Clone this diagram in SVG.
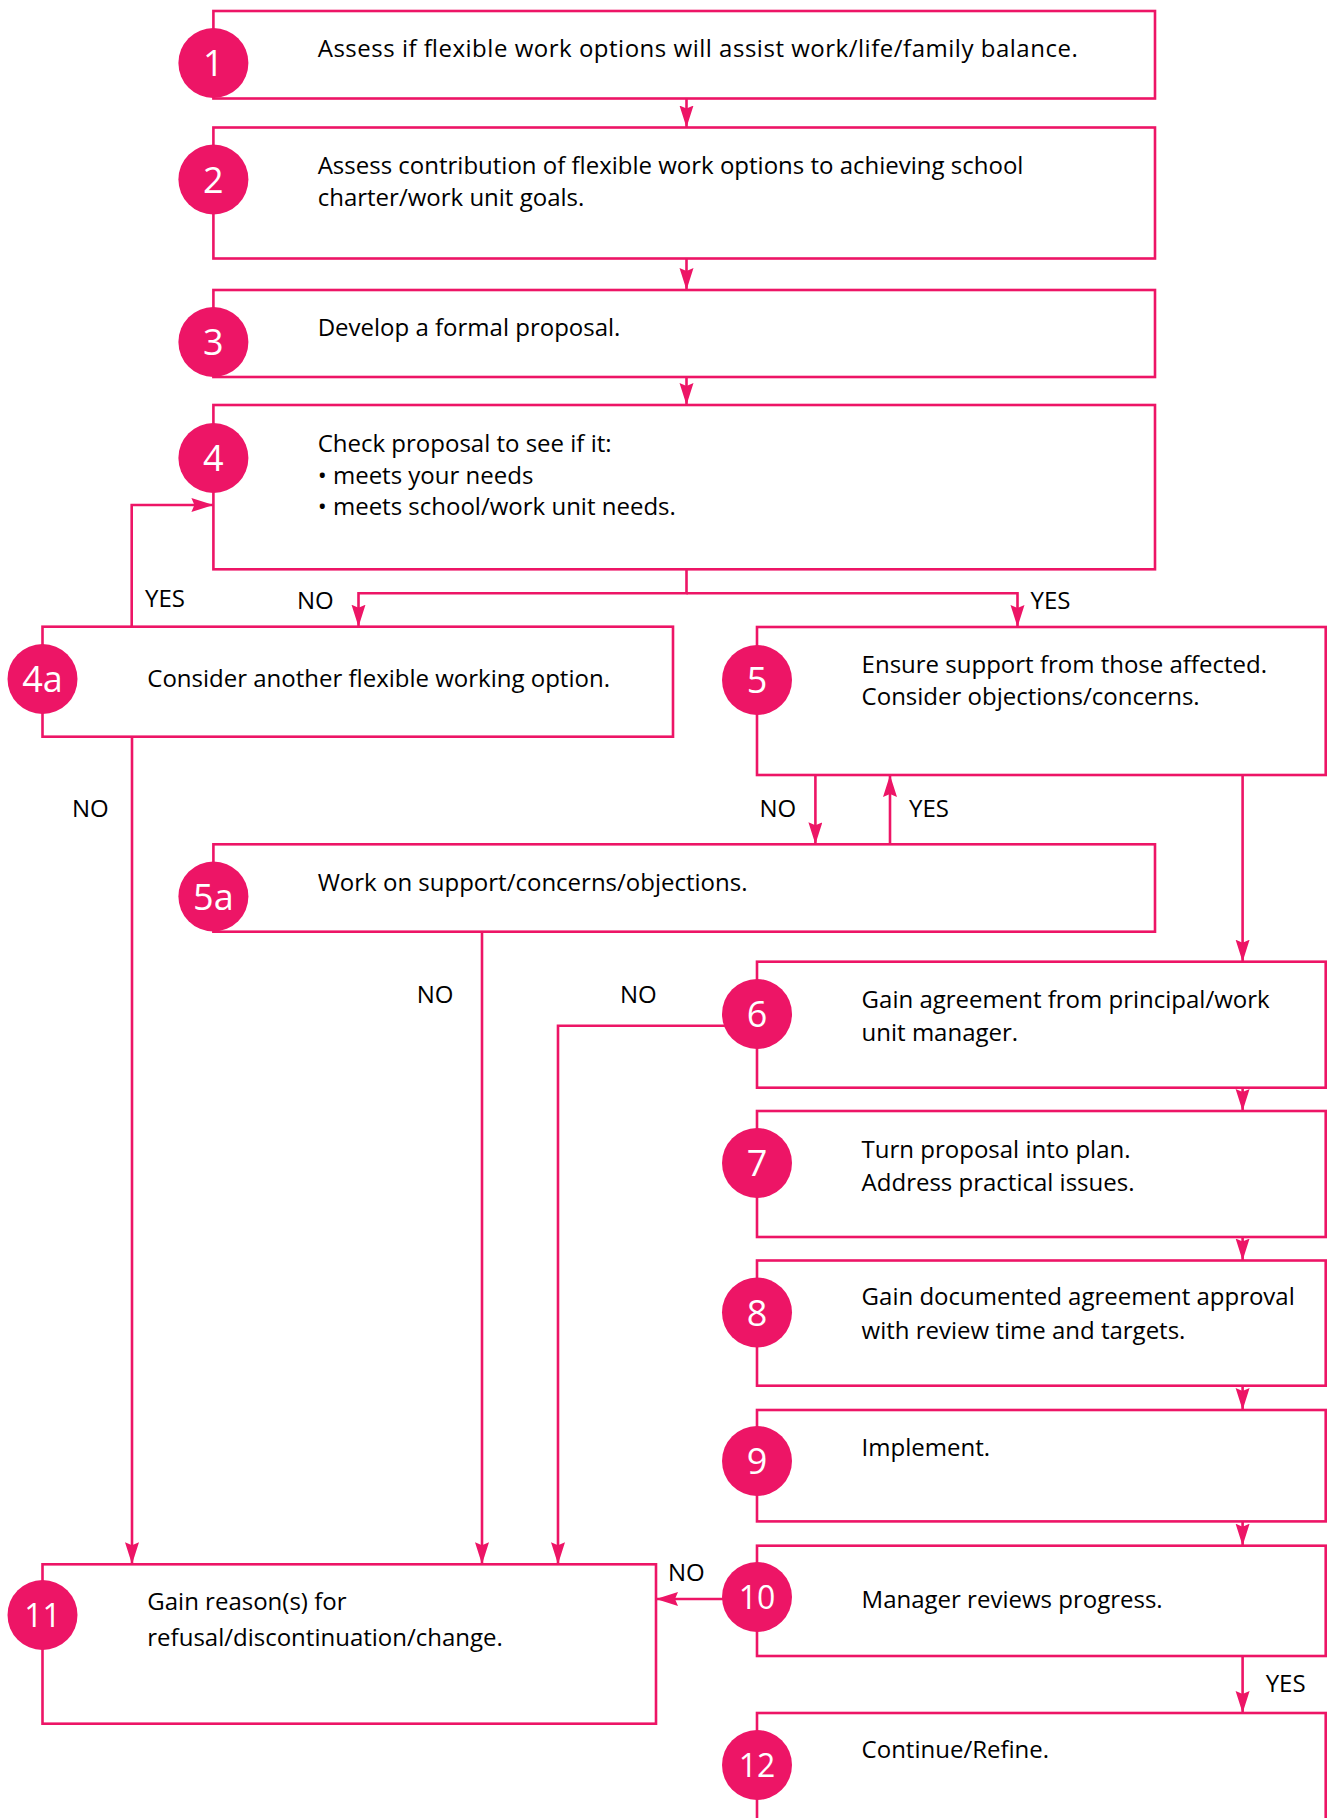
<svg xmlns="http://www.w3.org/2000/svg" width="1330" height="1818" viewBox="0 0 1330 1818">
<defs>
<style>
.box{fill:#fff;stroke:#ED1566;stroke-width:2.6}
.dot{fill:#ED1566}
.num{font-family:"Open Sans","Liberation Sans",sans-serif;font-size:36px;fill:#fff;text-anchor:middle}
.num2{font-family:"Open Sans","Liberation Sans",sans-serif;font-size:32px;fill:#fff;text-anchor:middle}
.t{font-family:"Open Sans","Liberation Sans",sans-serif;font-size:24px;fill:#000}
.c{fill:none;stroke:#ED1566;stroke-width:2.6}
.lbl{font-family:"Open Sans","Liberation Sans",sans-serif;font-size:24px;fill:#000}
</style>
<marker id="ah" markerUnits="userSpaceOnUse" markerWidth="24" markerHeight="16" refX="22" refY="7" orient="auto" viewBox="0 0 24 16">
<path d="M0,0 L22,7 L0,14 L3,7 z" fill="#ED1566"/>
</marker>
</defs>

<g id="connectors">
<path class="c" d="M686.5,98.5 V127.5" marker-end="url(#ah)"/>
<path class="c" d="M686.5,258.5 V290" marker-end="url(#ah)"/>
<path class="c" d="M686.5,377 V405" marker-end="url(#ah)"/>
<path class="c" d="M686.5,569.3 V593.3 H358.5 V626.7" marker-end="url(#ah)"/>
<path class="c" d="M686.5,593.3 H1017.5 V627" marker-end="url(#ah)"/>
<path class="c" d="M131.7,626.7 V505 H213.4" marker-end="url(#ah)"/>
<path class="c" d="M132,736.7 V1564.3" marker-end="url(#ah)"/>
<path class="c" d="M815.4,775 V844.3" marker-end="url(#ah)"/>
<path class="c" d="M890,844.3 V775" marker-end="url(#ah)"/>
<path class="c" d="M1242.6,775 V961.7" marker-end="url(#ah)"/>
<path class="c" d="M482,931.7 V1564.3" marker-end="url(#ah)"/>
<path class="c" d="M740,1025.7 H558 V1564.3" marker-end="url(#ah)"/>
<path class="c" d="M1242.6,1087.7 V1111" marker-end="url(#ah)"/>
<path class="c" d="M1242.6,1237 V1260.5" marker-end="url(#ah)"/>
<path class="c" d="M1242.6,1385.7 V1410" marker-end="url(#ah)"/>
<path class="c" d="M1242.6,1521.4 V1545.7" marker-end="url(#ah)"/>
<path class="c" d="M740,1599 H656" marker-end="url(#ah)"/>
<path class="c" d="M1242.6,1656 V1713" marker-end="url(#ah)"/>
<text class="lbl" x="145" y="607">YES</text>
<text class="lbl" x="297" y="608.5">NO</text>
<text class="lbl" x="1030.5" y="608.5">YES</text>
<text class="lbl" x="72" y="816.7">NO</text>
<text class="lbl" x="759.5" y="816.7">NO</text>
<text class="lbl" x="909" y="816.7">YES</text>
<text class="lbl" x="416.7" y="1003.3">NO</text>
<text class="lbl" x="620" y="1003.3">NO</text>
<text class="lbl" x="668" y="1580.7">NO</text>
<text class="lbl" x="1265.7" y="1691.7">YES</text>
</g>

<g id="node1">
<rect class="box" x="213.4" y="11" width="941.6" height="87.5"/>
<circle class="dot" cx="213.4" cy="63" r="35"/>
<text class="num" x="213.4" y="76">1</text>
<text class="t" x="317.7" y="57.3" textLength="760">Assess if flexible work options will assist work/life/family balance.</text>
</g>
<g id="node2">
<rect class="box" x="213.4" y="127.5" width="941.6" height="131"/>
<circle class="dot" cx="213.4" cy="179.5" r="35"/>
<text class="num" x="213.4" y="192.5">2</text>
<text class="t" x="317.7" y="173.5">Assess contribution of flexible work options to achieving school</text>
<text class="t" x="317.7" y="206">charter/work unit goals.</text>
</g>
<g id="node3">
<rect class="box" x="213.4" y="290" width="941.6" height="87"/>
<circle class="dot" cx="213.4" cy="342" r="35"/>
<text class="num" x="213.4" y="355">3</text>
<text class="t" x="317.7" y="336">Develop a formal proposal.</text>
</g>
<g id="node4">
<rect class="box" x="213.4" y="405" width="941.6" height="164.3"/>
<circle class="dot" cx="213.4" cy="458" r="35"/>
<text class="num" x="213.4" y="471">4</text>
<text class="t" x="317.7" y="451.7">Check proposal to see if it:</text>
<text class="t" x="317.7" y="483.5">• meets your needs</text>
<text class="t" x="317.7" y="515">• meets school/work unit needs.</text>
</g>
<g id="node4a">
<rect class="box" x="42.5" y="626.7" width="630.5" height="110"/>
<circle class="dot" cx="42.5" cy="679" r="35"/>
<text class="num" x="42.5" y="692">4a</text>
<text class="t" x="147.3" y="687.3">Consider another flexible working option.</text>
</g>
<g id="node5">
<rect class="box" x="757" y="627" width="568.7" height="148"/>
<circle class="dot" cx="757" cy="680" r="35"/>
<text class="num" x="757" y="693">5</text>
<text class="t" x="861.6" y="673.3">Ensure support from those affected.</text>
<text class="t" x="861.6" y="705">Consider objections/concerns.</text>
</g>
<g id="node5a">
<rect class="box" x="213.4" y="844.3" width="941.6" height="87.4"/>
<circle class="dot" cx="213.4" cy="896.5" r="35"/>
<text class="num" x="213.4" y="909.5">5a</text>
<text class="t" x="317.7" y="890.7">Work on support/concerns/objections.</text>
</g>
<g id="node6">
<rect class="box" x="757" y="961.7" width="568.7" height="126"/>
<circle class="dot" cx="757" cy="1014" r="35"/>
<text class="num" x="757" y="1027">6</text>
<text class="t" x="861.6" y="1008">Gain agreement from principal/work</text>
<text class="t" x="861.6" y="1041">unit manager.</text>
</g>
<g id="node7">
<rect class="box" x="757" y="1111" width="568.7" height="126"/>
<circle class="dot" cx="757" cy="1163" r="35"/>
<text class="num" x="757" y="1176">7</text>
<text class="t" x="861.6" y="1157.5">Turn proposal into plan.</text>
<text class="t" x="861.6" y="1191">Address practical issues.</text>
</g>
<g id="node8">
<rect class="box" x="757" y="1260.5" width="568.7" height="125.2"/>
<circle class="dot" cx="757" cy="1312.5" r="35"/>
<text class="num" x="757" y="1325.5">8</text>
<text class="t" x="861.6" y="1305">Gain documented agreement approval</text>
<text class="t" x="861.6" y="1339">with review time and targets.</text>
</g>
<g id="node9">
<rect class="box" x="757" y="1410" width="568.7" height="111.4"/>
<circle class="dot" cx="757" cy="1461" r="35"/>
<text class="num" x="757" y="1474">9</text>
<text class="t" x="861.6" y="1456">Implement.</text>
</g>
<g id="node10">
<rect class="box" x="757" y="1545.7" width="568.7" height="110.3"/>
<circle class="dot" cx="757" cy="1597" r="35"/>
<text class="num2" x="757" y="1609">10</text>
<text class="t" x="861.6" y="1607.5">Manager reviews progress.</text>
</g>
<g id="node11">
<rect class="box" x="42.5" y="1564.3" width="613.5" height="159.4"/>
<circle class="dot" cx="42.5" cy="1615" r="35"/>
<text class="num2" x="42.5" y="1627">11</text>
<text class="t" x="147.3" y="1610">Gain reason(s) for</text>
<text class="t" x="147.3" y="1645.7">refusal/discontinuation/change.</text>
</g>
<g id="node12">
<rect class="box" x="757" y="1713" width="568.7" height="130"/>
<circle class="dot" cx="757" cy="1765" r="35"/>
<text class="num2" x="757" y="1777">12</text>
<text class="t" x="861.6" y="1758.3">Continue/Refine.</text>
</g>
</svg>
